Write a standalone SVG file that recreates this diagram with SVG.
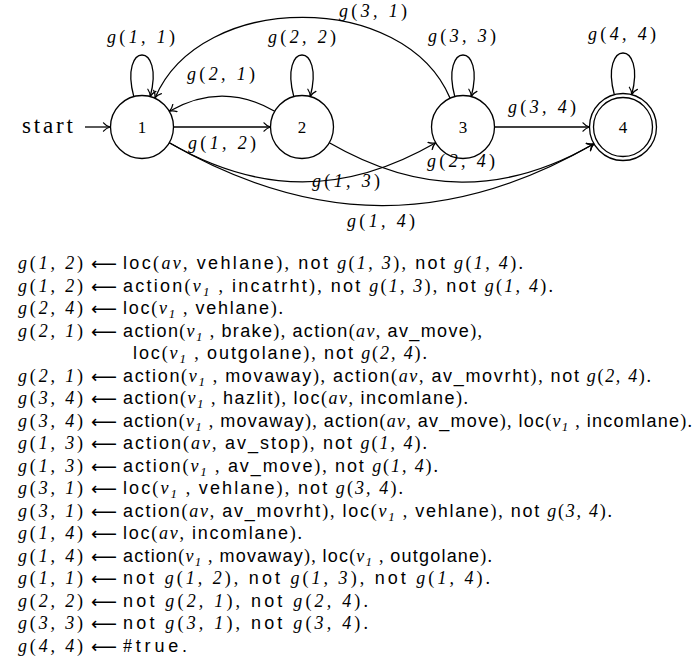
<svg xmlns="http://www.w3.org/2000/svg" width="694" height="660" viewBox="0 0 694 660">
<defs>
<style>
.e{fill:none;stroke:#000;stroke-width:1.3}
.n{fill:#fff;stroke:#000;stroke-width:1.3}
.t{font-family:"Liberation Serif","Times New Roman",serif;font-size:18px;fill:#000}
.m{font-style:italic}
.s{font-family:"Liberation Sans",Arial,sans-serif;font-size:18px}
.sub{font-size:13px;font-style:italic}
.ar{font-family:"DejaVu Sans",sans-serif;font-size:18px}
.nl{font-family:"Liberation Serif","Times New Roman",serif;font-size:17px;text-anchor:middle}
</style>
<marker id="arr" viewBox="-8 -5 9 10" refX="0" refY="0" markerWidth="9" markerHeight="10" markerUnits="userSpaceOnUse" orient="auto">
<path d="M-6.5,-4.2 C-4.5,-1.8 -1.5,-0.4 0,0 C-1.5,0.4 -4.5,1.8 -6.5,4.2" fill="none" stroke="#000" stroke-width="1.2" stroke-linecap="round"/>
</marker>
</defs>
<rect width="694" height="660" fill="#fff"/>
<g id="connectors">
<path class="e" d="M85,127 L110,127" marker-end="url(#arr)"/>
<path class="e" d="M173.5,127 L270.5,127" marker-end="url(#arr)"/>
<path class="e" d="M494.5,127 L589.5,127" marker-end="url(#arr)"/>
<path class="e" d="M274.7,111.25 C239.2,90.75 204.8,90.75 169.3,111.25" marker-end="url(#arr)"/>
<path class="e" d="M450,98 C404.3,-9.6 200.7,-9.6 155,98" marker-end="url(#arr)"/>
<path class="e" d="M169.3,142.75 C259.6,194.9 345.4,194.9 435.7,142.75" marker-end="url(#arr)"/>
<path class="e" d="M329.3,142.75 C419,194.55 504.3,195.55 594,143.75" marker-end="url(#arr)"/>
<path class="e" d="M169.3,142.75 C313.3,225.9 450,226.9 594,143.75" marker-end="url(#arr)"/>
<path class="e" d="M133.8,96.6 C118.9,41.1 165.1,41.1 150.2,96.6" marker-end="url(#arr)"/>
<path class="e" d="M293.8,96.6 C278.9,41.1 325.1,41.1 310.2,96.6" marker-end="url(#arr)"/>
<path class="e" d="M454.8,96.6 C439.9,41.1 486.1,41.1 471.2,96.6" marker-end="url(#arr)"/>
<path class="e" d="M614.3,94.6 C599.4,39.1 646.6,39.1 631.7,94.6" marker-end="url(#arr)"/>
</g>
<g id="start"><text class="t" x="22" y="133" textLength="51" style="font-size:23px">start</text></g>
<g id="node1"><circle class="n" cx="142" cy="127" r="31.5"/><text class="nl" x="142" y="133">1</text></g>
<g id="node2"><circle class="n" cx="302" cy="127" r="31.5"/><text class="nl" x="302" y="133">2</text></g>
<g id="node3"><circle class="n" cx="463" cy="127" r="31.5"/><text class="nl" x="463" y="133">3</text></g>
<g id="node4"><circle class="n" cx="623" cy="127" r="33.5"/><circle class="n" cx="623" cy="127" r="29.5"/><text class="nl" x="623" y="133">4</text></g>
<g id="edge-labels" text-anchor="middle">
<text class="t" x="141" y="43" textLength="68"><tspan class="m">g</tspan>(<tspan class="m">1, 1</tspan>)</text>
<text class="t" x="302" y="43" textLength="68"><tspan class="m">g</tspan>(<tspan class="m">2, 2</tspan>)</text>
<text class="t" x="462" y="42" textLength="68"><tspan class="m">g</tspan>(<tspan class="m">3, 3</tspan>)</text>
<text class="t" x="622" y="40" textLength="68"><tspan class="m">g</tspan>(<tspan class="m">4, 4</tspan>)</text>
<text class="t" x="373" y="17" textLength="68"><tspan class="m">g</tspan>(<tspan class="m">3, 1</tspan>)</text>
<text class="t" x="221" y="80" textLength="68"><tspan class="m">g</tspan>(<tspan class="m">2, 1</tspan>)</text>
<text class="t" x="222" y="149" textLength="68"><tspan class="m">g</tspan>(<tspan class="m">1, 2</tspan>)</text>
<text class="t" x="542" y="113" textLength="68"><tspan class="m">g</tspan>(<tspan class="m">3, 4</tspan>)</text>
<text class="t" x="346" y="187" textLength="68"><tspan class="m">g</tspan>(<tspan class="m">1, 3</tspan>)</text>
<text class="t" x="461" y="167" textLength="68"><tspan class="m">g</tspan>(<tspan class="m">2, 4</tspan>)</text>
<text class="t" x="381" y="227" textLength="68"><tspan class="m">g</tspan>(<tspan class="m">1, 4</tspan>)</text>
</g>
<g id="rules">
<g class="t">
<text class="t" x="18" y="269" textLength="65"><tspan class="m">g</tspan>(<tspan class="m">1, 2</tspan>)</text>
<text class="t" x="18" y="291.5" textLength="65"><tspan class="m">g</tspan>(<tspan class="m">1, 2</tspan>)</text>
<text class="t" x="18" y="314" textLength="65"><tspan class="m">g</tspan>(<tspan class="m">2, 4</tspan>)</text>
<text class="t" x="18" y="336.5" textLength="65"><tspan class="m">g</tspan>(<tspan class="m">2, 1</tspan>)</text>
<text class="t" x="18" y="381.5" textLength="65"><tspan class="m">g</tspan>(<tspan class="m">2, 1</tspan>)</text>
<text class="t" x="18" y="404" textLength="65"><tspan class="m">g</tspan>(<tspan class="m">3, 4</tspan>)</text>
<text class="t" x="18" y="426.5" textLength="65"><tspan class="m">g</tspan>(<tspan class="m">3, 4</tspan>)</text>
<text class="t" x="18" y="449" textLength="65"><tspan class="m">g</tspan>(<tspan class="m">1, 3</tspan>)</text>
<text class="t" x="18" y="471.5" textLength="65"><tspan class="m">g</tspan>(<tspan class="m">1, 3</tspan>)</text>
<text class="t" x="18" y="494" textLength="65"><tspan class="m">g</tspan>(<tspan class="m">3, 1</tspan>)</text>
<text class="t" x="18" y="516.5" textLength="65"><tspan class="m">g</tspan>(<tspan class="m">3, 1</tspan>)</text>
<text class="t" x="18" y="539" textLength="65"><tspan class="m">g</tspan>(<tspan class="m">1, 4</tspan>)</text>
<text class="t" x="18" y="561.5" textLength="65"><tspan class="m">g</tspan>(<tspan class="m">1, 4</tspan>)</text>
<text class="t" x="18" y="584" textLength="65"><tspan class="m">g</tspan>(<tspan class="m">1, 1</tspan>)</text>
<text class="t" x="18" y="606.5" textLength="65"><tspan class="m">g</tspan>(<tspan class="m">2, 2</tspan>)</text>
<text class="t" x="18" y="629" textLength="65"><tspan class="m">g</tspan>(<tspan class="m">3, 3</tspan>)</text>
<text class="t" x="18" y="651.5" textLength="65"><tspan class="m">g</tspan>(<tspan class="m">4, 4</tspan>)</text>
</g>
<g class="ar">
<text x="91" y="270" textLength="26" lengthAdjust="spacingAndGlyphs">⟵</text>
<text x="91" y="292.5" textLength="26" lengthAdjust="spacingAndGlyphs">⟵</text>
<text x="91" y="315" textLength="26" lengthAdjust="spacingAndGlyphs">⟵</text>
<text x="91" y="337.5" textLength="26" lengthAdjust="spacingAndGlyphs">⟵</text>
<text x="91" y="382.5" textLength="26" lengthAdjust="spacingAndGlyphs">⟵</text>
<text x="91" y="405" textLength="26" lengthAdjust="spacingAndGlyphs">⟵</text>
<text x="91" y="427.5" textLength="26" lengthAdjust="spacingAndGlyphs">⟵</text>
<text x="91" y="450" textLength="26" lengthAdjust="spacingAndGlyphs">⟵</text>
<text x="91" y="472.5" textLength="26" lengthAdjust="spacingAndGlyphs">⟵</text>
<text x="91" y="495" textLength="26" lengthAdjust="spacingAndGlyphs">⟵</text>
<text x="91" y="517.5" textLength="26" lengthAdjust="spacingAndGlyphs">⟵</text>
<text x="91" y="540" textLength="26" lengthAdjust="spacingAndGlyphs">⟵</text>
<text x="91" y="562.5" textLength="26" lengthAdjust="spacingAndGlyphs">⟵</text>
<text x="91" y="585" textLength="26" lengthAdjust="spacingAndGlyphs">⟵</text>
<text x="91" y="607.5" textLength="26" lengthAdjust="spacingAndGlyphs">⟵</text>
<text x="91" y="630" textLength="26" lengthAdjust="spacingAndGlyphs">⟵</text>
<text x="91" y="652.5" textLength="26" lengthAdjust="spacingAndGlyphs">⟵</text>
</g>
<text class="t" x="123" y="269" textLength="400"><tspan class="s">loc</tspan>(<tspan class="m">av</tspan>, <tspan class="s">vehlane</tspan>), <tspan class="s">not</tspan> <tspan class="m">g</tspan>(<tspan class="m">1, 3</tspan>), <tspan class="s">not</tspan> <tspan class="m">g</tspan>(<tspan class="m">1, 4</tspan>).</text>
<text class="t" x="123" y="291.5" textLength="430"><tspan class="s">action</tspan>(<tspan class="m">v</tspan><tspan class="sub" dy="4">1</tspan><tspan dy="-4"> , </tspan><tspan class="s">incatrht</tspan>), <tspan class="s">not</tspan> <tspan class="m">g</tspan>(<tspan class="m">1, 3</tspan>), <tspan class="s">not</tspan> <tspan class="m">g</tspan>(<tspan class="m">1, 4</tspan>).</text>
<text class="t" x="123" y="314" textLength="160"><tspan class="s">loc</tspan>(<tspan class="m">v</tspan><tspan class="sub" dy="4">1</tspan><tspan dy="-4"> , </tspan><tspan class="s">vehlane</tspan>).</text>
<text class="t" x="123" y="336.5" textLength="359"><tspan class="s">action</tspan>(<tspan class="m">v</tspan><tspan class="sub" dy="4">1</tspan><tspan dy="-4"> , </tspan><tspan class="s">brake</tspan>), <tspan class="s">action</tspan>(<tspan class="m">av</tspan>, <tspan class="s">av_move</tspan>),</text>
<text class="t" x="133" y="359" textLength="294"><tspan class="s">loc</tspan>(<tspan class="m">v</tspan><tspan class="sub" dy="4">1</tspan><tspan dy="-4"> , </tspan><tspan class="s">outgolane</tspan>), <tspan class="s">not</tspan> <tspan class="m">g</tspan>(<tspan class="m">2, 4</tspan>).</text>
<text class="t" x="123" y="381.5" textLength="528"><tspan class="s">action</tspan>(<tspan class="m">v</tspan><tspan class="sub" dy="4">1</tspan><tspan dy="-4"> , </tspan><tspan class="s">movaway</tspan>), <tspan class="s">action</tspan>(<tspan class="m">av</tspan>, <tspan class="s">av_movrht</tspan>), <tspan class="s">not</tspan> <tspan class="m">g</tspan>(<tspan class="m">2, 4</tspan>).</text>
<text class="t" x="123" y="404" textLength="345"><tspan class="s">action</tspan>(<tspan class="m">v</tspan><tspan class="sub" dy="4">1</tspan><tspan dy="-4"> , </tspan><tspan class="s">hazlit</tspan>), <tspan class="s">loc</tspan>(<tspan class="m">av</tspan>, <tspan class="s">incomlane</tspan>).</text>
<text class="t" x="123" y="426.5" textLength="569"><tspan class="s">action</tspan>(<tspan class="m">v</tspan><tspan class="sub" dy="4">1</tspan><tspan dy="-4"> , </tspan><tspan class="s">movaway</tspan>), <tspan class="s">action</tspan>(<tspan class="m">av</tspan>, <tspan class="s">av_move</tspan>), <tspan class="s">loc</tspan>(<tspan class="m">v</tspan><tspan class="sub" dy="4">1</tspan><tspan dy="-4"> , </tspan><tspan class="s">incomlane</tspan>).</text>
<text class="t" x="123" y="449" textLength="304"><tspan class="s">action</tspan>(<tspan class="m">av</tspan>, <tspan class="s">av_stop</tspan>), <tspan class="s">not</tspan> <tspan class="m">g</tspan>(<tspan class="m">1, 4</tspan>).</text>
<text class="t" x="123" y="471.5" textLength="315"><tspan class="s">action</tspan>(<tspan class="m">v</tspan><tspan class="sub" dy="4">1</tspan><tspan dy="-4"> , </tspan><tspan class="s">av_move</tspan>), <tspan class="s">not</tspan> <tspan class="m">g</tspan>(<tspan class="m">1, 4</tspan>).</text>
<text class="t" x="123" y="494" textLength="280"><tspan class="s">loc</tspan>(<tspan class="m">v</tspan><tspan class="sub" dy="4">1</tspan><tspan dy="-4"> , </tspan><tspan class="s">vehlane</tspan>), <tspan class="s">not</tspan> <tspan class="m">g</tspan>(<tspan class="m">3, 4</tspan>).</text>
<text class="t" x="123" y="516.5" textLength="489"><tspan class="s">action</tspan>(<tspan class="m">av</tspan>, <tspan class="s">av_movrht</tspan>), <tspan class="s">loc</tspan>(<tspan class="m">v</tspan><tspan class="sub" dy="4">1</tspan><tspan dy="-4"> , </tspan><tspan class="s">vehlane</tspan>), <tspan class="s">not</tspan> <tspan class="m">g</tspan>(<tspan class="m">3, 4</tspan>).</text>
<text class="t" x="123" y="539" textLength="179"><tspan class="s">loc</tspan>(<tspan class="m">av</tspan>, <tspan class="s">incomlane</tspan>).</text>
<text class="t" x="123" y="561.5" textLength="369"><tspan class="s">action</tspan>(<tspan class="m">v</tspan><tspan class="sub" dy="4">1</tspan><tspan dy="-4"> , </tspan><tspan class="s">movaway</tspan>), <tspan class="s">loc</tspan>(<tspan class="m">v</tspan><tspan class="sub" dy="4">1</tspan><tspan dy="-4"> , </tspan><tspan class="s">outgolane</tspan>).</text>
<text class="t" x="123" y="584" textLength="367"><tspan class="s">not</tspan> <tspan class="m">g</tspan>(<tspan class="m">1, 2</tspan>), <tspan class="s">not</tspan> <tspan class="m">g</tspan>(<tspan class="m">1, 3</tspan>), <tspan class="s">not</tspan> <tspan class="m">g</tspan>(<tspan class="m">1, 4</tspan>).</text>
<text class="t" x="123" y="606.5" textLength="245"><tspan class="s">not</tspan> <tspan class="m">g</tspan>(<tspan class="m">2, 1</tspan>), <tspan class="s">not</tspan> <tspan class="m">g</tspan>(<tspan class="m">2, 4</tspan>).</text>
<text class="t" x="123" y="629" textLength="245"><tspan class="s">not</tspan> <tspan class="m">g</tspan>(<tspan class="m">3, 1</tspan>), <tspan class="s">not</tspan> <tspan class="m">g</tspan>(<tspan class="m">3, 4</tspan>).</text>
<text class="t" x="123" y="651.5" textLength="64">#<tspan class="s">true.</tspan></text>
</g>
</svg>
